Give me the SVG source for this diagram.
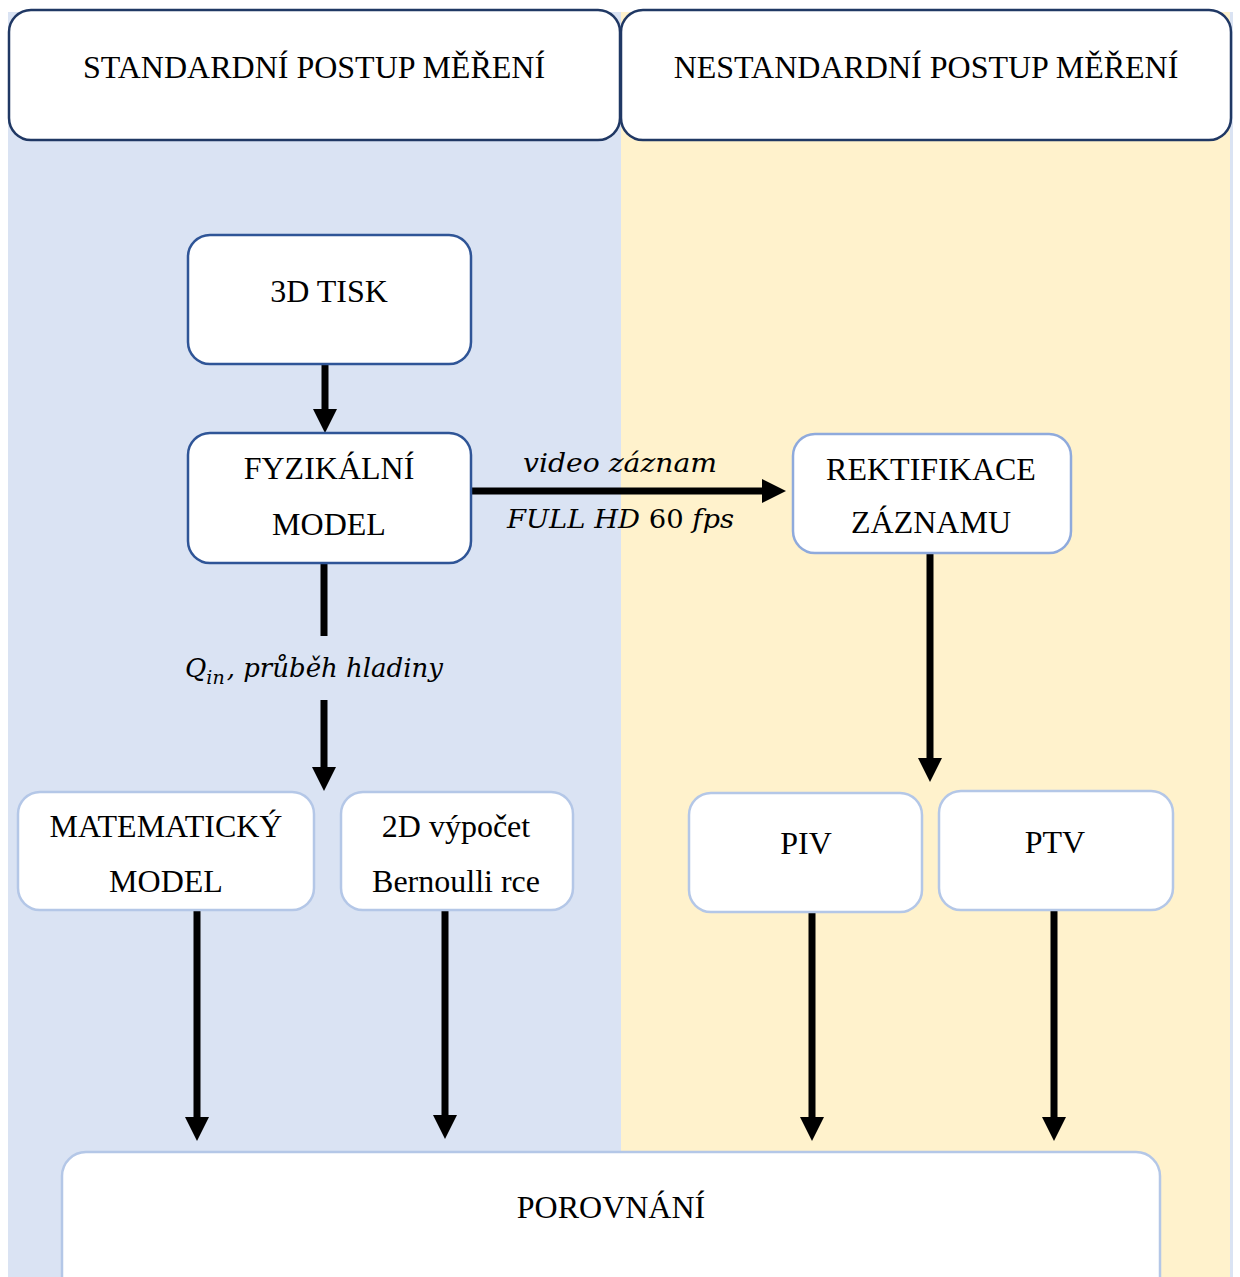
<svg xmlns="http://www.w3.org/2000/svg" width="1240" height="1277" viewBox="0 0 1240 1277">
  <style>
    .lbl { font-family: "Liberation Serif", "Times New Roman", serif; font-size: 32px; fill: #000; text-anchor: middle; }
    .math { font-family: "DejaVu Serif", "Liberation Serif", serif; font-style: italic; font-size: 26px; fill: #000; }
    .box { fill: #fff; stroke-width: 2.5; }
    .hdr { stroke: #203864; }
    .dark { stroke: #2F5597; }
    .mid { stroke: #8FAADC; }
    .light { stroke: #B4C7E7; }
    .conn { stroke: #000; stroke-width: 7; fill: none; }
  </style>
  <defs>
    <marker id="ah" markerUnits="userSpaceOnUse" markerWidth="24" markerHeight="24" refX="0" refY="12" orient="auto" overflow="visible">
      <path d="M0,0 L24,12 L0,24 Z" fill="#000"/>
    </marker>
  </defs>

  <rect width="1240" height="1277" fill="#fff"/>
  <g id="panels">
    <rect x="8" y="12" width="1225" height="1265" fill="#DAE3F3"/>
    <rect x="621" y="12" width="609" height="1265" fill="#FFF2CC"/>
  </g>

  <g id="connectors">
    <line class="conn" x1="325" y1="364" x2="325" y2="409" marker-end="url(#ah)"/>
    <line class="conn" x1="471" y1="491" x2="762" y2="491" marker-end="url(#ah)"/>
    <line class="conn" x1="930" y1="553" x2="930" y2="758" marker-end="url(#ah)"/>
    <line class="conn" x1="324" y1="563" x2="324" y2="636"/>
    <line class="conn" x1="324" y1="700" x2="324" y2="767" marker-end="url(#ah)"/>
    <line class="conn" x1="197" y1="910" x2="197" y2="1117" marker-end="url(#ah)"/>
    <line class="conn" x1="445" y1="910" x2="445" y2="1115" marker-end="url(#ah)"/>
    <line class="conn" x1="812" y1="912" x2="812" y2="1117" marker-end="url(#ah)"/>
    <line class="conn" x1="1054" y1="910" x2="1054" y2="1117" marker-end="url(#ah)"/>
    <text class="math" x="523" y="472" textLength="194" lengthAdjust="spacingAndGlyphs">video záznam</text>
    <text class="math" x="507" y="528" textLength="227" lengthAdjust="spacingAndGlyphs">FULL HD <tspan font-style="normal">60</tspan> fps</text>
    <text class="math" x="185" y="677" font-size="27">Q<tspan dy="7" font-size="19">in</tspan><tspan dy="-7" dx="2">, průběh hladiny</tspan></text>
  </g>

  <g id="hdr-standard">
    <rect class="box hdr" x="9" y="10" width="611" height="130" rx="22"/>
    <text class="lbl" x="314" y="78">STANDARDNÍ POSTUP MĚŘENÍ</text>
  </g>
  <g id="hdr-nestandard">
    <rect class="box hdr" x="621" y="10" width="610" height="130" rx="22"/>
    <text class="lbl" x="926" y="78">NESTANDARDNÍ POSTUP MĚŘENÍ</text>
  </g>

  <g id="tisk">
    <rect class="box dark" x="188" y="235" width="283" height="129" rx="22"/>
    <text class="lbl" x="329" y="302">3D TISK</text>
  </g>
  <g id="fyzikalni">
    <rect class="box dark" x="188" y="433" width="283" height="130" rx="22"/>
    <text class="lbl" x="329" y="479">FYZIKÁLNÍ</text>
    <text class="lbl" x="329" y="535">MODEL</text>
  </g>
  <g id="rektifikace">
    <rect class="box mid" x="793" y="434" width="278" height="119" rx="22"/>
    <text class="lbl" x="931" y="480">REKTIFIKACE</text>
    <text class="lbl" x="931" y="533">ZÁZNAMU</text>
  </g>
  <g id="matematicky">
    <rect class="box light" x="18" y="792" width="296" height="118" rx="22"/>
    <text class="lbl" x="166" y="837">MATEMATICKÝ</text>
    <text class="lbl" x="166" y="892">MODEL</text>
  </g>
  <g id="vypocet">
    <rect class="box light" x="341" y="792" width="232" height="118" rx="22"/>
    <text class="lbl" x="456" y="837">2D výpočet</text>
    <text class="lbl" x="456" y="892">Bernoulli rce</text>
  </g>
  <g id="piv">
    <rect class="box light" x="689" y="793" width="233" height="119" rx="22"/>
    <text class="lbl" x="806" y="854">PIV</text>
  </g>
  <g id="ptv">
    <rect class="box light" x="939" y="791" width="234" height="119" rx="22"/>
    <text class="lbl" x="1055" y="853">PTV</text>
  </g>
  <g id="porovnani">
    <rect class="box light" x="62" y="1152" width="1098" height="150" rx="24"/>
    <text class="lbl" x="611" y="1218">POROVNÁNÍ</text>
  </g>
</svg>
